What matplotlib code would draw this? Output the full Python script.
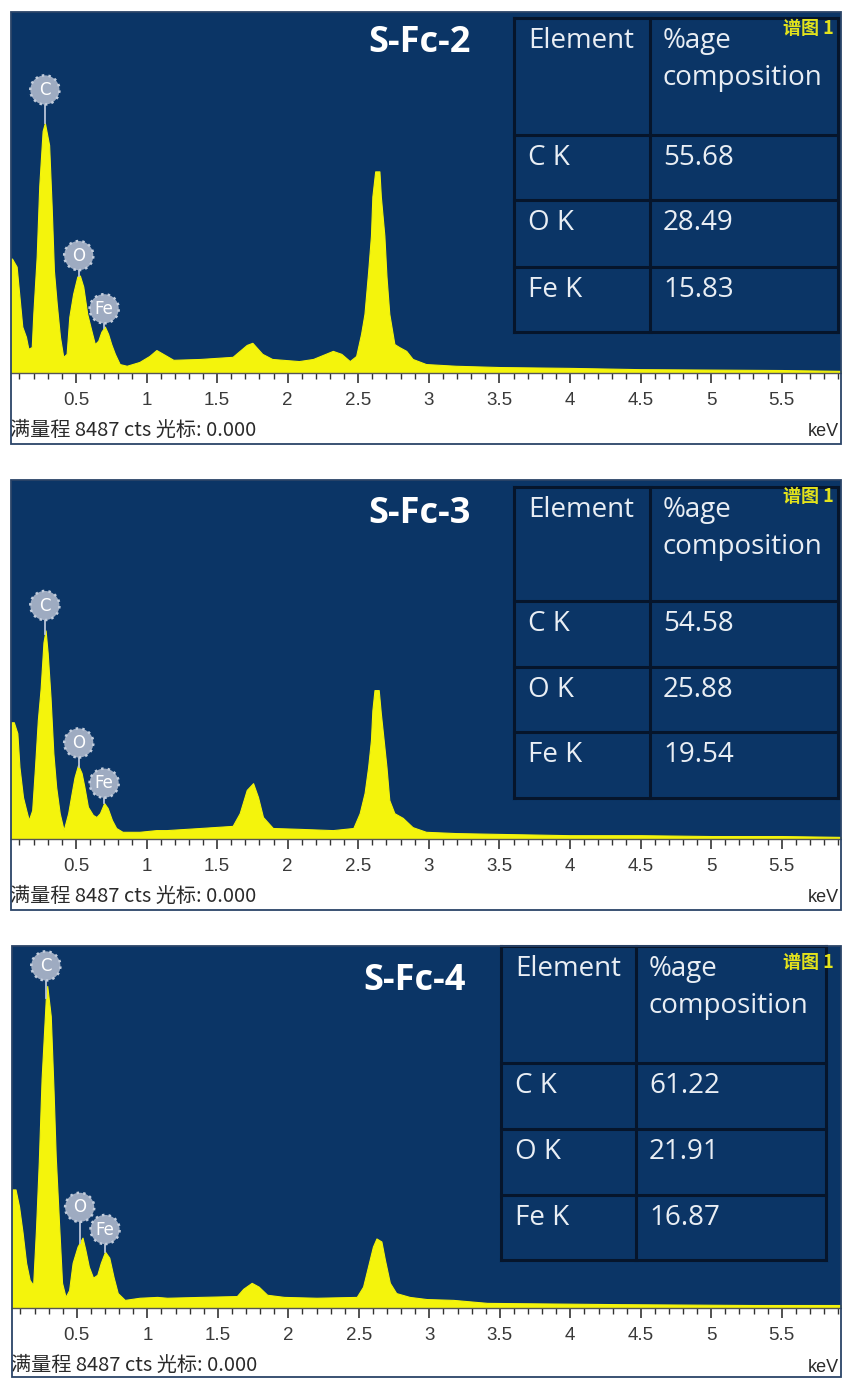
import numpy as np
import matplotlib
matplotlib.use("Agg")
import matplotlib.pyplot as plt
from matplotlib.ticker import FixedLocator, MultipleLocator
from matplotlib.patches import Rectangle
from matplotlib.lines import Line2D

# ---------------- data ----------------
samples = ["S-Fc-2", "S-Fc-3", "S-Fc-4"]
elements = ["C K", "O K", "Fe K"]
comp_fc2 = ["55.68", "28.49", "15.83"]
comp_fc3 = ["54.58", "25.88", "19.54"]
comp_fc4 = ["61.22", "21.91", "16.87"]
full_scale_cts = 8487
status_text = "满量程 8487 cts 光标: 0.000"
spectrum_tag = "谱图 1"

tick_values = [0.5, 1, 1.5, 2, 2.5, 3, 3.5, 4, 4.5, 5, 5.5]
tick_labels = ["0.5", "1", "1.5", "2", "2.5", "3", "3.5", "4", "4.5", "5", "5.5"]

peak_names = ["C", "O", "Fe"]
peak_energy = [0.28, 0.52, 0.70]
label_cts_fc2 = [6655, 2760, 1510]
label_cts_fc3 = [5520, 2270, 1320]
label_cts_fc4 = [8020, 2360, 1840]

energy_fc2 = [0.04, 0.047, 0.08, 0.10, 0.12, 0.146, 0.163, 0.187, 0.198, 0.222, 0.24, 0.264, 0.28,
              0.31, 0.328, 0.344, 0.364, 0.387, 0.41, 0.434, 0.453, 0.48, 0.51, 0.528, 0.552,
              0.58, 0.61, 0.634, 0.658, 0.68, 0.705, 0.728, 0.75, 0.776, 0.81, 0.86, 0.95,
              1.02, 1.07, 1.19, 1.38, 1.61, 1.71, 1.75, 1.82, 1.89, 2.08, 2.18, 2.32, 2.38,
              2.44, 2.485, 2.52, 2.544, 2.57, 2.59, 2.60, 2.62, 2.65, 2.66, 2.685, 2.70, 2.72,
              2.756, 2.79, 2.84, 2.885, 2.98, 3.19, 3.5, 4.0, 4.5, 5.0, 5.5, 5.92]
counts_fc2 = [2690, 2690, 2500, 1790, 1090, 850, 570, 610, 1390, 2740, 4390, 5690, 5880,
              5360, 3920, 2410, 1630, 850, 380, 450, 1320, 1860, 2270, 2290, 2030,
              1390, 990, 680, 760, 970, 1090, 920, 680, 450, 210, 170, 260,
              400, 540, 310, 330, 380, 660, 710, 450, 330, 280, 330, 520, 450,
              280, 400, 920, 1390, 2380, 3230, 4150, 4740, 4740, 4150, 3230, 2270, 1390,
              680, 610, 520, 330, 210, 170, 140, 120, 90, 80, 70, 50]

energy_fc3 = [0.04, 0.06, 0.085, 0.10, 0.125, 0.148, 0.166, 0.19, 0.21, 0.23, 0.25, 0.27, 0.285,
              0.30, 0.32, 0.34, 0.36, 0.385, 0.413, 0.445, 0.47, 0.49, 0.515, 0.54, 0.56,
              0.585, 0.62, 0.645, 0.67, 0.70, 0.725, 0.755, 0.785, 0.83, 0.95, 1.07, 1.14,
              1.38, 1.61, 1.66, 1.71, 1.755, 1.79, 1.825, 1.895, 2.08, 2.32, 2.465, 2.51,
              2.545, 2.57, 2.59, 2.60, 2.615, 2.645, 2.66, 2.68, 2.70, 2.72, 2.756, 2.815,
              2.885, 2.98, 3.19, 3.5, 4.0, 4.5, 5.0, 5.5, 5.92]
counts_fc3 = [2760, 2760, 2500, 1700, 990, 680, 450, 680, 1700, 2810, 3560, 4650, 4930,
              4390, 3350, 2030, 1230, 610, 210, 610, 1090, 1460, 1750, 1560, 1230,
              760, 570, 520, 610, 850, 730, 450, 260, 170, 170, 210, 210,
              260, 310, 610, 1160, 1320, 990, 520, 260, 240, 210, 260, 610,
              1090, 1700, 2340, 3040, 3520, 3520, 2970, 2340, 1700, 920, 610, 500,
              280, 170, 140, 120, 90, 90, 70, 70, 50]

energy_fc4 = [0.04, 0.065, 0.09, 0.115, 0.14, 0.165, 0.19, 0.21, 0.23, 0.25, 0.28, 0.29, 0.315,
              0.335, 0.35, 0.375, 0.395, 0.42, 0.445, 0.47, 0.505, 0.54, 0.56, 0.585, 0.615,
              0.645, 0.67, 0.70, 0.73, 0.76, 0.79, 0.84, 0.945, 1.07, 1.14, 1.375, 1.635,
              1.68, 1.74, 1.79, 1.85, 1.97, 2.20, 2.485, 2.53, 2.565, 2.60, 2.625, 2.66,
              2.685, 2.72, 2.765, 2.86, 2.98, 3.17, 3.41, 4.35, 5.3, 5.92]
counts_fc4 = [2780, 2780, 2380, 1770, 1060, 660, 540, 1840, 3420, 5380, 7270, 7550, 6840,
              5070, 3560, 1890, 590, 260, 420, 1060, 1440, 1650, 1370, 970, 710,
              780, 1060, 1320, 1180, 730, 350, 190, 240, 260, 240, 260, 280,
              450, 590, 500, 310, 260, 240, 260, 500, 970, 1440, 1630, 1560,
              1130, 590, 350, 260, 210, 190, 120, 90, 70, 70]

energies = [energy_fc2, energy_fc3, energy_fc4]
counts = [counts_fc2, counts_fc3, counts_fc4]
comps = [comp_fc2, comp_fc3, comp_fc4]
label_cts = [label_cts_fc2, label_cts_fc3, label_cts_fc4]

# ---------------- style / layout ----------------
W, H = 842, 1378
BG = "#0b3566"
YEL = "#f4f40c"
TXT = "#e9eef4"
CJK = ["Noto Sans CJK SC", "DejaVu Sans"]

fig = plt.figure(figsize=(W / 100, H / 100), dpi=100)
fig.patch.set_facecolor("white")


def fx(x):
    return x / W


def fy(y):
    return 1 - y / H


# (left, top, right, axis_bottom, frame_bottom)
panel_geom = [(11, 12, 841, 373, 444), (11, 480, 841, 839, 910), (12, 946, 841, 1308, 1377)]
# table: (left, top, right, bottom, column divider, row lines)
table_geom = [(514, 18, 838, 332, 650, [135, 200, 267]),
              (514, 487, 838, 798, 650, [601, 667, 732]),
              (501, 946, 826, 1260, 636, [1063, 1129, 1195])]
title_pos = [(419, 43), (419, 514), (415, 981)]

for i in range(3):
    L, T, R, B, FB = panel_geom[i]
    ax = fig.add_axes([fx(L), fy(B), (R - L) / W, (B - T) / H])
    ax.set_facecolor(BG)
    E = np.array(energies[i])
    C = np.array(counts[i])
    ax.fill_between(E, C, 0, color=YEL, lw=0.8, edgecolor=YEL)
    ax.set_xlim(0.04, 5.92)
    ax.set_ylim(0, full_scale_cts)
    ax.set_yticks([])
    ax.xaxis.set_major_locator(FixedLocator(tick_values))
    ax.set_xticklabels(tick_labels)
    ax.xaxis.set_minor_locator(MultipleLocator(0.1))
    ax.tick_params(axis="x", which="major", direction="out", length=7, width=1.2,
                   color="#333333", labelsize=13.5, labelcolor="#3a3a3a", pad=7)
    ax.tick_params(axis="x", which="minor", direction="out", length=4, width=1.0,
                   color="#333333")
    for lab in ax.get_xticklabels():
        lab.set_family("Liberation Sans")
    for s in ["top", "left", "right"]:
        ax.spines[s].set_visible(False)
    ax.spines["bottom"].set_color("#555555")
    ax.spines["bottom"].set_linewidth(1.0)

    # panel frame (around plot + white strip)
    fig.patches.append(Rectangle((fx(L), fy(FB)), (R - L) / W, (FB - T) / H,
                                 transform=fig.transFigure, facecolor="none",
                                 edgecolor="#2b4468", lw=1.3, zorder=5))

    # element markers
    for name, e, ly in zip(peak_names, peak_energy, label_cts[i]):
        top = np.interp(e, E, C)
        ax.plot([e, e], [top, ly], color="#b9c5d8", lw=1.3, zorder=3)
        ax.scatter([e], [ly], s=440, color="#9eabc1", edgecolors="#c3cddc",
                   linewidths=1.8, linestyle=":", zorder=4)
        ax.text(e, ly, name, color="white", ha="center", va="center", fontsize=12,
                family="DejaVu Sans", zorder=5)

    # title
    tx, ty = title_pos[i]
    fig.text(fx(tx), fy(ty), samples[i], color="white", fontsize=26, fontweight="bold",
             family="Open Sans", ha="center", va="center")

    # table
    tl, tt, tr, tb, tc, rows = table_geom[i]
    lc = "#06152b"
    for yy in [tt, tb] + rows:
        fig.lines.append(Line2D([fx(tl), fx(tr)], [fy(yy), fy(yy)], transform=fig.transFigure,
                                color=lc, lw=2.2))
    for xx in [tl, tc, tr]:
        fig.lines.append(Line2D([fx(xx), fx(xx)], [fy(tt), fy(tb)], transform=fig.transFigure,
                                color=lc, lw=2.2))
    tfs = 20
    fig.text(fx(tl + 14), fy(tt + 30), "Element", color=TXT, fontsize=tfs,
             family="Open Sans", va="baseline")
    fig.text(fx(tc + 13), fy(tt + 30), "%age", color=TXT, fontsize=tfs,
             family="Open Sans", va="baseline")
    fig.text(fx(tc + 13), fy(tt + 67), "composition", color=TXT, fontsize=tfs,
             family="Open Sans", va="baseline")
    for rtop, el, val in zip(rows, elements, comps[i]):
        fig.text(fx(tl + 14), fy(rtop + 30), el, color=TXT, fontsize=tfs,
                 family="Open Sans", va="baseline")
        fig.text(fx(tc + 13), fy(rtop + 30), val, color=TXT, fontsize=tfs,
                 family="Open Sans", va="baseline")

    # spectrum tag
    fig.text(fx(834), fy(T + 16), spectrum_tag, color="#e2e21c", fontsize=13,
             fontweight="bold", family=CJK, ha="right", va="center")

    # status line
    fig.text(fx(L - 1), fy(B + 57), status_text, color="#2a2a2a", fontsize=14.5,
             family=CJK, ha="left", va="center")
    fig.text(fx(R - 2), fy(B + 59), "keV", color="#2a2a2a", fontsize=13,
             family="Liberation Sans", ha="right", va="center")

fig.savefig("out.png", dpi=100, facecolor="white")
